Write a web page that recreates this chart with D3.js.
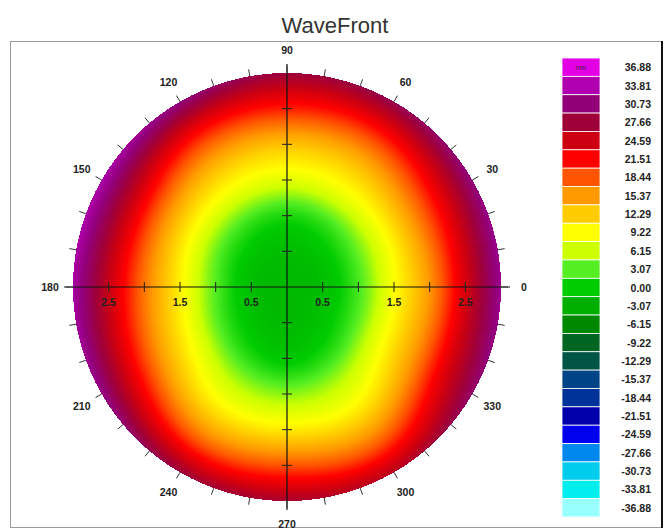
<!DOCTYPE html>
<html>
<head>
<meta charset="utf-8">
<script src="https://cdn.jsdelivr.net/npm/d3@7"></script>
<style>
  body { margin: 0; background: #fff; }
  svg { display: block; }
  .lbl { font-family: "Liberation Sans Narrow", "Arial Narrow", "Liberation Sans", sans-serif; font-weight: bold; font-size: 10.5px; fill: #222; }
</style>
</head>
<body>
<svg id="chart" width="665" height="530"></svg>
<script>
// colour bar levels (nm), top to bottom, and the colour of each step
const levels = [36.88, 33.81, 30.73, 27.66, 24.59, 21.51, 18.44, 15.37, 12.29, 9.22, 6.15, 3.07, 0.00,
  -3.07, -6.15, -9.22, -12.29, -15.37, -18.44, -21.51, -24.59, -27.66, -30.73, -33.81, -36.88];
const levelColors = ['#e400e4', '#b000b0', '#920078', '#a00038', '#cc0010', '#ff0000', '#ff5500', '#ff9900',
  '#ffcc00', '#ffff00', '#ccff00', '#55ee22', '#00cc00', '#00b000', '#008800', '#006622', '#005544',
  '#004488', '#003399', '#0000aa', '#0000ee', '#0088ee', '#00ccee', '#00eeee', '#99ffff'];

// wavefront readings (nm) along each meridian, every 0.5 mm from centre to the 3 mm edge
const radii = [0, 0.5, 1, 1.5, 2, 2.5, 3];
const meridians = [0, 30, 60, 90, 120, 150, 180, 210, 240, 270, 300, 330];
const m0   = [-2, -1.5,  2.5,  9.0, 15.5, 24, 32];
const m30  = [-2, -1.5,  2.3,  8.5, 15.5, 23, 31];
const m60  = [-2, -1.5,  1.5,  8.0, 13.5, 20.5, 29];
const m90  = [-2, -1.6,  1.0,  7.5, 13.0, 20.5, 28];
const m120 = [-2, -1.5,  1.5,  8.0, 14.0, 21.5, 31];
const m150 = [-2, -1.5,  2.3,  9.0, 16.5, 25, 33.5];
const m180 = [-2, -1.5,  3.0, 10.0, 17.0, 25, 33];
const m210 = [-2, -1.5,  2.0,  8.5, 15.0, 23, 31.5];
const m240 = [-2, -1.8,  0.5,  5.5, 11.0, 18.5, 28];
const m270 = [-2, -2.0, -0.5,  4.5, 10.5, 18.5, 27];
const m300 = [-2, -1.8,  0.5,  5.5, 10.5, 17.5, 26];
const m330 = [-2, -1.5,  2.0,  8.5, 15.0, 23, 30];
const wavefront = [m0, m30, m60, m90, m120, m150, m180, m210, m240, m270, m300, m330];

// axis ticks (mm) and the labels printed under the horizontal axis
const axisTicks = [-2.5, -2, -1.5, -1, -0.5, 0.5, 1, 1.5, 2, 2.5];
const axisLabelPos = [-2.5, -1.5, -0.5, 0.5, 1.5, 2.5];
const axisLabels = ['2.5', '1.5', '0.5', '0.5', '1.5', '2.5'];
const rimTicks = d3.range(0, 360, 10);
const angleLabels = [0, 30, 60, 90, 120, 150, 180, 210, 240, 270, 300, 330];

const svg = d3.select('#chart');
const cx = 287, cy = 287, R = 214;
const maxR = radii[radii.length - 1];

const x = d3.scaleLinear().domain([-maxR, maxR]).range([cx - R, cx + R]);
const y = d3.scaleLinear().domain([-maxR, maxR]).range([cy + R, cy - R]);
const rad = d3.scaleLinear().domain([0, maxR]).range([0, R]);
const color = d3.scaleLinear().domain(levels).range(levelColors).clamp(true);

// frame + title
svg.append('rect').attr('x', 10.5).attr('y', 41.5).attr('width', 651).attr('height', 486)
  .attr('fill', '#fff').attr('stroke', '#9a9a9a');
svg.append('line').attr('x1', 662).attr('x2', 662).attr('y1', 41).attr('y2', 528)
  .attr('stroke', '#111').attr('stroke-width', 2);
svg.append('text').attr('x', 335).attr('y', 33).attr('text-anchor', 'middle')
  .style('font-family', '"Liberation Sans", Arial, sans-serif').style('font-size', '22px')
  .attr('fill', '#333').text('WaveFront');

// catmull-rom through four readings
function cr(p0, p1, p2, p3, t) {
  return 0.5 * (2 * p1 + (p2 - p0) * t + (2 * p0 - 5 * p1 + 4 * p2 - p3) * t * t
    + (3 * p1 - p0 - 3 * p2 + p3) * t * t * t);
}

// reading along meridian m at r mm (the point behind the centre is the opposite meridian)
function alongMeridian(m, r) {
  const w = wavefront[m];
  const opp = wavefront[(m + meridians.length / 2) % meridians.length];
  const dr = radii[1] - radii[0];
  const n = radii.length;
  const j = Math.min(Math.floor(r / dr), n - 2);
  const t = r / dr - j;
  const p0 = j > 0 ? w[j - 1] : opp[1];
  const p3 = j + 2 < n ? w[j + 2] : 2 * w[n - 1] - w[n - 2];
  return cr(p0, w[j], w[j + 1], p3, t);
}

function waveAt(r, a) {
  const k = meridians.length;
  const fa = a / (meridians[1] - meridians[0]);
  const i = Math.floor(fa) % k;
  const t = fa - Math.floor(fa);
  return cr(alongMeridian((i + k - 1) % k, r), alongMeridian(i, r),
    alongMeridian((i + 1) % k, r), alongMeridian((i + 2) % k, r), t);
}

// paint the map on a canvas and drop it into the svg
const size = 2 * R + 2;
const canvas = document.createElement('canvas');
canvas.width = size; canvas.height = size;
const ctx = canvas.getContext('2d');
const img = ctx.createImageData(size, size);
const x0 = cx - R - 1, y0 = cy - R - 1;
for (let py = 0; py < size; py++) {
  for (let px = 0; px < size; px++) {
    const mx = x.invert(x0 + px + 0.5), my = y.invert(y0 + py + 0.5);
    const r = Math.sqrt(mx * mx + my * my);
    if (r > maxR) continue;
    let a = Math.atan2(my, mx) * 180 / Math.PI;
    if (a < 0) a += 360;
    const c = d3.rgb(color(waveAt(r, a)));
    const k = (py * size + px) * 4;
    img.data[k] = c.r; img.data[k + 1] = c.g; img.data[k + 2] = c.b; img.data[k + 3] = 255;
  }
}
ctx.putImageData(img, 0, 0);
svg.append('image').attr('x', x0).attr('y', y0).attr('width', size).attr('height', size)
  .attr('href', canvas.toDataURL());

// axes through the centre
const ext = rad.invert(R + 9);
svg.append('line').attr('x1', x(-ext)).attr('x2', x(ext)).attr('y1', cy).attr('y2', cy)
  .attr('stroke', '#111').attr('stroke-width', 1.2);
svg.append('line').attr('x1', cx).attr('x2', cx).attr('y1', y(ext)).attr('y2', y(-ext))
  .attr('stroke', '#111').attr('stroke-width', 1.2);

svg.append('g').selectAll('line').data(axisTicks).join('line')
  .attr('x1', d => x(d)).attr('x2', d => x(d)).attr('y1', cy - 5).attr('y2', cy + 5)
  .attr('stroke', '#222');
svg.append('g').selectAll('line').data(axisTicks).join('line')
  .attr('x1', cx - 5).attr('x2', cx + 5).attr('y1', d => y(d)).attr('y2', d => y(d))
  .attr('stroke', '#222');
svg.append('g').selectAll('text').data(axisLabelPos).join('text')
  .attr('class', 'lbl').attr('x', d => x(d)).attr('y', cy + 19).attr('text-anchor', 'middle')
  .text((d, i) => axisLabels[i]);

// rim ticks and angle labels
svg.append('g').selectAll('line').data(rimTicks).join('line')
  .attr('x1', d => cx + R * Math.cos(d * Math.PI / 180))
  .attr('y1', d => cy - R * Math.sin(d * Math.PI / 180))
  .attr('x2', d => cx + (R + 7) * Math.cos(d * Math.PI / 180))
  .attr('y2', d => cy - (R + 7) * Math.sin(d * Math.PI / 180))
  .attr('stroke', '#333');
svg.append('g').selectAll('text').data(angleLabels).join('text')
  .attr('class', 'lbl').attr('text-anchor', 'middle').attr('dominant-baseline', 'central')
  .attr('x', d => cx + (R + 23) * Math.cos(d * Math.PI / 180))
  .attr('y', d => cy - (R + 23) * Math.sin(d * Math.PI / 180))
  .text(d => d);

// colour bar
const band = d3.scaleBand().domain(levels).range([58, 517]);
const legend = svg.append('g');
legend.selectAll('rect').data(levels).join('rect')
  .attr('x', 562).attr('width', 38).attr('y', d => band(d)).attr('height', band.bandwidth())
  .attr('fill', (d, i) => levelColors[i]).attr('stroke', '#fff').attr('stroke-width', 0.8);
legend.selectAll('text.val').data(levels).join('text')
  .attr('class', 'lbl val').attr('x', 651).attr('text-anchor', 'end').attr('dominant-baseline', 'central')
  .attr('y', d => band(d) + band.bandwidth() / 2).text(d => d.toFixed(2));
legend.append('text').attr('x', 581).attr('y', band(levels[0]) + band.bandwidth() / 2)
  .attr('dominant-baseline', 'central').attr('text-anchor', 'middle')
  .style('font-family', '"Liberation Sans", sans-serif').style('font-size', '7.5px').attr('fill', '#402040')
  .text('nm');
</script>
</body>
</html>
